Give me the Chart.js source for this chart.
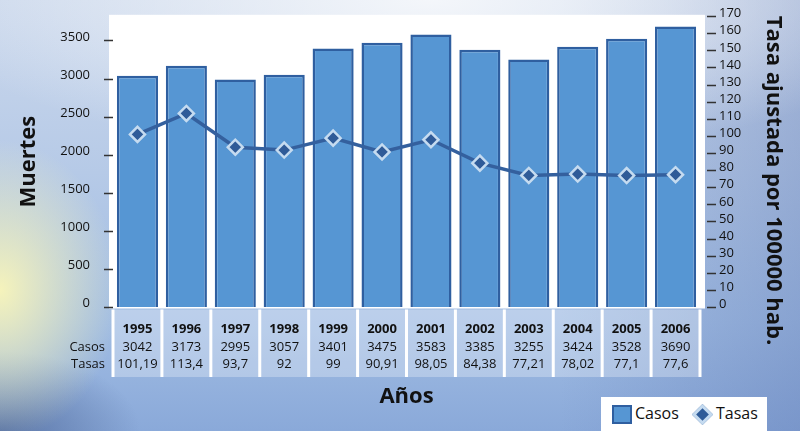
<!DOCTYPE html>
<html lang="es">
  <head>
    <meta charset="UTF-8" />
    <title>Muertes y tasas 1995-2006</title>
    <script src="https://cdn.jsdelivr.net/npm/chart.js"></script>
    <style>
      html, body { margin: 0; padding: 0; }
      body {
        width: 800px;
        height: 431px;
        overflow: hidden;
        position: relative;
        font-family: "Open Sans", sans-serif;
        background:
          radial-gradient(ellipse 120px 150px at 0px 290px, rgba(250, 246, 185, 0.95), rgba(250, 246, 185, 0) 100%),
          radial-gradient(ellipse 520px 160px at 430px 0px, rgba(246, 248, 251, 0.95), rgba(246, 248, 251, 0) 100%),
          radial-gradient(ellipse 140px 80px at 0px 431px, rgba(70, 95, 145, 0.7), rgba(70, 95, 145, 0) 100%),
          linear-gradient(to right, rgba(0, 0, 0, 0) 70%, rgba(90, 115, 175, 0.35) 100%),
          linear-gradient(to bottom, #cbd8ec 0%, #b6cae7 40%, #a0bce3 75%, #8aa9d9 100%);
      }
      #wrap { position: absolute; left: 0; top: 0; width: 800px; height: 431px; }
      .legend {
        position: absolute; left: 601px; top: 397px; width: 166px; height: 34px;
        background: #fff; font-size: 16px; color: #111;
      }
      .legend .sq {
        position: absolute; left: 11px; top: 8px; width: 16px; height: 15px;
        background: #5696d3; border: 2px solid #2f5fa0;
      }
      .legend .dia {
        position: absolute; left: 94px; top: 10px; width: 9px; height: 9px;
        background: #2f5b98; border: 3px solid #c5dbf0; transform: rotate(45deg);
      }
      .legend span { position: absolute; top: 5px; }
    </style>
  </head>
  <body>
    <div id="wrap"><canvas id="chart"></canvas></div>
    <div class="legend">
      <div class="sq"></div><span style="left:34px">Casos</span>
      <div class="dia"></div><span style="left:115px">Tasas</span>
    </div>
    <script>
      const years = ["1995", "1996", "1997", "1998", "1999", "2000", "2001", "2002", "2003", "2004", "2005", "2006"];
      const casos = [3042, 3173, 2995, 3057, 3401, 3475, 3583, 3385, 3255, 3424, 3528, 3690];
      const tasas = [101.19, 113.4, 93.7, 92, 99, 90.91, 98.05, 84.38, 77.21, 78.02, 77.1, 77.6];
      const leftTicks = [0, 500, 1000, 1500, 2000, 2500, 3000, 3500];
      const rightTicks = [0, 10, 20, 30, 40, 50, 60, 70, 80, 90, 100, 110, 120, 130, 140, 150, 160, 170];

      const FONT = "'Open Sans', sans-serif";

      // white plot panel + data table under the bars
      const tablePlugin = {
        id: "tablePlugin",
        beforeDraw(chart) {
          const { ctx, chartArea: a, scales } = chart;
          const x = scales.x;
          ctx.save();
          ctx.fillStyle = "#ffffff";
          ctx.fillRect(a.left - 4, a.top - 1, a.right - a.left + 9, a.bottom - a.top + 2);

          const step = x.width / years.length;
          const top = a.bottom + 2, bottom = 377;
          ctx.fillStyle = "rgba(255,255,255,0.28)";
          ctx.fillRect(a.left, top, a.right - a.left, bottom - top);
          ctx.fillStyle = "#ffffff";
          for (let i = 0; i <= years.length; i++) {
            ctx.fillRect(a.left + i * step - 1.5, top, 3, bottom - top);
          }

          ctx.fillStyle = "#111";
          ctx.textBaseline = "middle";
          ctx.textAlign = "right";
          ctx.font = "13px " + FONT;
          ctx.fillText("Casos", a.left - 8, 347);
          ctx.fillText("Tasas", a.left - 8, 364);
          ctx.textAlign = "center";
          years.forEach((y, i) => {
            const cx = x.getPixelForValue(i);
            ctx.font = "bold 13px " + FONT;
            ctx.fillText(y, cx, 329);
            ctx.font = "13px " + FONT;
            ctx.fillText(String(casos[i]), cx, 347);
            ctx.fillText(String(tasas[i]).replace(".", ","), cx, 364);
          });
          ctx.restore();
        },
      };

      new Chart(document.getElementById("chart"), {
        data: {
          labels: years,
          datasets: [
            {
              type: "line",
              label: "Tasas",
              data: tasas,
              yAxisID: "y2",
              order: 0,
              borderColor: "#34609e",
              borderWidth: 3.5,
              pointStyle: "rectRot",
              pointRadius: 7.5,
              pointBackgroundColor: "#2f5b98",
              pointBorderColor: "#c5dbf0",
              pointBorderWidth: 2.5,
              tension: 0,
            },
            {
              type: "bar",
              label: "Casos",
              data: casos,
              yAxisID: "y",
              order: 1,
              backgroundColor: "#5696d3",
              borderColor: "#2f5fa0",
              borderWidth: 2.5,
              barPercentage: 0.84,
              categoryPercentage: 1,
            },
          ],
        },
        options: {
          responsive: true,
          maintainAspectRatio: false,
          animation: false,
          layout: { padding: { top: 13, left: 0, right: 0, bottom: 0 } },
          plugins: { legend: { display: false }, tooltip: { enabled: false } },
          scales: {
            x: {
              grid: { display: false },
              border: { display: false },
              ticks: { display: false },
              title: {
                display: true, text: "Años", color: "#111",
                font: { family: FONT, size: 22, weight: "bold" },
                padding: { top: 0, bottom: 21 },
              },
              afterFit: (s) => { s.height = 123.5; },
            },
            y: {
              position: "left",
              min: 0, max: 3830,
              afterBuildTicks: (s) => { s.ticks = leftTicks.map((v) => ({ value: v })); },
              grid: {
                drawOnChartArea: false, tickLength: 15, tickWidth: 1.5,
                tickColor: "#333", tickBorderDash: [0, 6, 9, 100],
              },
              border: { display: false },
              ticks: {
                color: "#111", padding: 8, labelOffset: -4, autoSkip: false,
                font: { family: FONT, size: 13 },
                callback: (v) => String(v),
              },
              title: {
                display: true, text: "Muertes", color: "#111",
                font: { family: FONT, size: 22, weight: "bold" },
                padding: { top: 16, bottom: 0 },
              },
              afterFit: (s) => { s.width = 113; },
            },
            y2: {
              position: "right",
              min: 0, max: 170.5,
              afterBuildTicks: (s) => { s.ticks = rightTicks.map((v) => ({ value: v })); },
              grid: {
                drawOnChartArea: false, tickLength: 16, tickWidth: 1.5,
                tickColor: "#333", tickBorderDash: [0, 7, 9, 100],
              },
              border: { display: false },
              ticks: {
                color: "#111", padding: 3, labelOffset: -3, autoSkip: false,
                font: { family: FONT, size: 13 },
                callback: (v) => String(v),
              },
              title: {
                display: true, text: "Tasa ajustada por 100000 hab.", color: "#111",
                font: { family: FONT, size: 22, weight: "bold" },
                align: "end",
                padding: { top: 14, bottom: 0 },
              },
              afterFit: (s) => { s.width = 100; },
            },
          },
        },
        plugins: [tablePlugin],
      });
    </script>
  </body>
</html>
